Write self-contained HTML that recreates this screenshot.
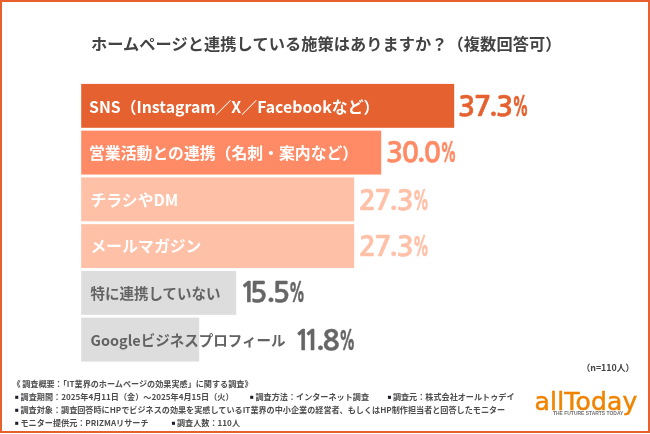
<!DOCTYPE html>
<html lang="ja">
<head>
<meta charset="utf-8">
<style>
html,body{margin:0;padding:0;background:#fff;}
body{width:650px;height:434px;position:relative;overflow:hidden;will-change:transform;font-family:"Liberation Sans","Noto Sans CJK JP",sans-serif;}
.frame{position:absolute;left:0;top:0;width:650px;height:433px;box-sizing:border-box;border:2px solid #E8602E;}
.jp{font-family:"Noto Sans CJK JP","Liberation Sans",sans-serif;}
.title{position:absolute;left:91px;top:33.3px;font-size:16.2px;line-height:20px;font-weight:bold;letter-spacing:0.08px;color:#434343;white-space:nowrap;}
svg.bars,svg.pct{position:absolute;left:0;top:0;}
svg.pct text{font-family:"NanumGothic","Liberation Sans",sans-serif;font-size:28.5px;font-weight:bold;}
.lbl{position:absolute;font-size:15.85px;line-height:20px;font-weight:bold;color:#fff;white-space:nowrap;}
.lbl.g{color:#636363;font-size:14.5px;}
.note{position:absolute;font-size:8.12px;line-height:13px;color:#4d4d4d;white-space:nowrap;font-weight:bold;}
.bul{position:absolute;font-family:"Liberation Sans","Noto Sans CJK JP",sans-serif;font-size:6.4px;line-height:13px;color:#1c1f2b;white-space:nowrap;}
.n{position:absolute;left:581.4px;top:361.3px;font-size:8.85px;line-height:13px;color:#444;white-space:nowrap;font-weight:bold;}
.logo{position:absolute;left:534.5px;top:386.6px;font-family:"DejaVu Sans",sans-serif;font-size:25px;line-height:30px;color:#F08300;white-space:nowrap;letter-spacing:0.2px;-webkit-text-stroke:0.5px #F08300;}
.tag{position:absolute;left:553.4px;top:409.9px;font-family:"Liberation Sans",sans-serif;font-size:5.5px;line-height:7px;color:#6f6f6f;white-space:nowrap;font-weight:bold;transform-origin:0 0;transform:scaleX(0.9);}
</style>
</head>
<body>
<div class="frame"></div>
<div class="title jp">ホームページと連携している施策はありますか？（複数回答可）</div>
<svg class="bars" width="650" height="434" viewBox="0 0 650 434">
<rect x="81.2" y="83.90" width="373.0" height="43.9" fill="#E5612F"/>
<rect x="81.2" y="130.65" width="300.0" height="43.9" fill="#FF8B66"/>
<rect x="81.2" y="177.40" width="273.0" height="43.9" fill="#FFC0A8"/>
<rect x="81.2" y="224.15" width="273.0" height="43.9" fill="#FFC0A8"/>
<rect x="81.2" y="270.90" width="155.0" height="43.9" fill="#DDDDDD"/>
<rect x="81.2" y="317.65" width="118.0" height="43.9" fill="#DDDDDD"/>
</svg>
<div class="lbl jp" style="left:89.0px;top:96.70px">SNS（Instagram／X／Facebookなど）</div>
<div class="lbl jp" style="left:89.0px;top:142.75px">営業活動との連携（名刺・案内など）</div>
<div class="lbl jp" style="left:90.5px;top:190.30px">チラシやDM</div>
<div class="lbl jp" style="left:90.5px;top:236.25px">メールマガジン</div>
<div class="lbl jp g" style="left:90.5px;top:282.90px">特に連携していない</div>
<div class="lbl jp g" style="left:90.5px;top:329.65px">Googleビジネスプロフィール</div>
<svg class="pct" width="650" height="434" viewBox="0 0 650 434">
<text x="457.93 473.94 488.96 496.03" y="116.00 116.00 114.15 116.00" fill="#E5612F" stroke="#E5612F" stroke-width="0.5">37.3</text><text transform="scale(0.53,0.94)" x="966.29" y="123.72" fill="#E5612F" stroke="#E5612F" stroke-width="0.5">%</text>
<text x="385.93 401.63 416.86 423.73" y="161.70 161.70 159.85 161.70" fill="#FF8B66" stroke="#FF8B66" stroke-width="0.5">30.0</text><text transform="scale(0.53,0.94)" x="830.53" y="172.34" fill="#FF8B66" stroke="#FF8B66" stroke-width="0.5">%</text>
<text x="358.78 374.24 389.31 396.48" y="210.20 210.20 208.35 210.20" fill="#FFC0A8" stroke="#FFC0A8" stroke-width="0.5">27.3</text><text transform="scale(0.53,0.94)" x="778.74" y="223.94" fill="#FFC0A8" stroke="#FFC0A8" stroke-width="0.5">%</text>
<text x="358.78 374.24 389.31 396.48" y="255.50 255.50 253.65 255.50" fill="#FFC0A8" stroke="#FFC0A8" stroke-width="0.5">27.3</text><text transform="scale(0.53,0.94)" x="778.74" y="272.13" fill="#FFC0A8" stroke="#FFC0A8" stroke-width="0.5">%</text>
<text x="239.40 249.96 266.46 272.66" y="302.10 302.10 300.25 302.10" fill="#666666" stroke="#666666" stroke-width="0.5">15.5</text><text transform="scale(0.53,0.94)" x="544.87" y="321.70" fill="#666666" stroke="#666666" stroke-width="0.5">%</text>
<text x="293.90 303.30 316.06 322.54" y="350.10 350.10 348.25 350.10" fill="#666666" stroke="#666666" stroke-width="0.5">11.8</text><text transform="scale(0.53,0.94)" x="639.40" y="372.77" fill="#666666" stroke="#666666" stroke-width="0.5">%</text>
</svg>
<div class="n jp">（n=110人）</div>
<div class="note jp" style="left:12.4px;top:377.25px">《</div><div class="note jp" style="left:22.2px;top:377.25px">調査概要：「IT業界のホームページの効果実感」に関する調査》</div>
<div class="bul" style="left:15px;top:390.25px">■</div><div class="note jp" style="left:20.6px;top:390.25px">調査期間：2025年4月11日（金）～2025年4月15日（火）</div>
<div class="bul" style="left:250px;top:390.25px">■</div><div class="note jp" style="left:255.5px;top:390.25px">調査方法：インターネット調査</div>
<div class="bul" style="left:387.7px;top:390.25px">■</div><div class="note jp" style="left:392.9px;top:390.25px">調査元：株式会社オールトゥデイ</div>
<div class="bul" style="left:15px;top:403.25px">■</div><div class="note jp" style="left:20.5px;top:403.25px">調査対象：調査回答時にHPでビジネスの効果を実感しているIT業界の中小企業の経営者、もしくはHP制作担当者と回答したモニター</div>
<div class="bul" style="left:15px;top:416.2px">■</div><div class="note jp" style="left:20.5px;top:416.2px">モニター提供元：PRIZMAリサーチ</div>
<div class="bul" style="left:171.7px;top:416.2px">■</div><div class="note jp" style="left:177px;top:416.2px">調査人数：110人</div>
<div class="logo">allToday</div>
<div class="tag">THE FUTURE STARTS TODAY</div>
</body>
</html>
